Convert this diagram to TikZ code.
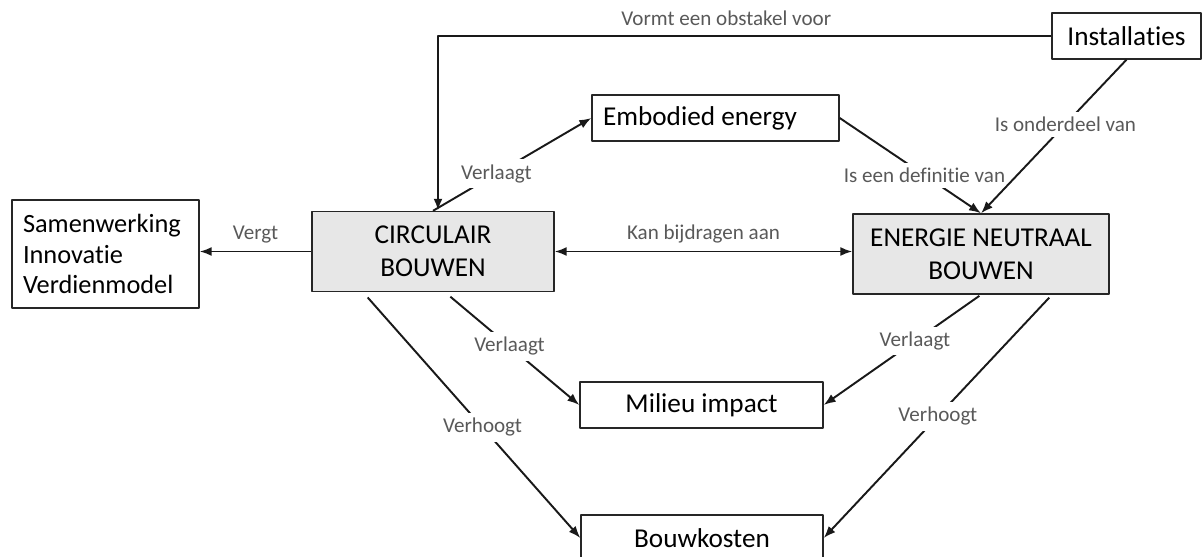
\documentclass[tikz,border=0pt]{standalone}
\usepackage{fontspec}
\setmainfont{Carlito}[Ligatures={NoCommon}]
\usepackage{xcolor}
\usetikzlibrary{arrows.meta,positioning}

\begin{document}
\begin{tikzpicture}[
  x=0.02cm, y=-0.02cm,
  >={Latex[length=2.4mm,width=1.8mm]},
  line join=round,
  box/.style={draw=black!85, line width=0.8pt, inner sep=0pt, align=center,
    font=\fontsize{15.5}{19}\selectfont, minimum height=0.92cm},
  keybox/.style={box, fill=cbgrey, minimum height=1.6cm},
  relation/.style={->, draw=black!90, line width=1.1pt},
  rellabel/.style={font=\fontsize{12}{14}\selectfont, text=cblabel,
    fill=white, inner sep=3pt}
]
\definecolor{cbgrey}{HTML}{E7E7E7}
\definecolor{cblabel}{HTML}{595959}

\useasboundingbox (0,0) rectangle (1203,557);

% the two main concepts
\node[keybox, minimum width=4.84cm] (circ) at (433,251.5) {CIRCULAIR\\BOUWEN};
\node[keybox, minimum width=5.12cm] (enb) at (981,254) {ENERGIE NEUTRAAL\\BOUWEN};

% related concepts
\node[box, minimum width=2.98cm] (inst) at (1126.5,36) {Installaties};
\node[box, text width=4.5cm, inner xsep=0.22cm, align=flush left] (emb) at (715.5,118) {Embodied energy};
\node[box, text width=3.3cm, inner xsep=0.22cm, align=flush left, minimum height=2.16cm,
  font=\fontsize{15}{17.5}\selectfont] (samen) at (105.5,254)
  {Samenwerking\\Innovatie\\Verdienmodel};
\node[box, minimum width=4.86cm] (mil) at (701.5,405) {Milieu impact};
\node[box, minimum width=4.84cm] (bouw) at (702,538) {Bouwkosten};

% relations
\draw[relation, line width=1.6pt] (inst.west) -| ([xshift=0.1cm]circ.north)
  node[rellabel, fill=none, pos=0.265, above=2pt] {Vormt een obstakel voor};
\draw[relation] (circ.north) -- node[rellabel, pos=0.4] {Verlaagt} (emb.west);
\draw[relation] (emb.east) -- node[rellabel, pos=0.6] {Is een definitie van} (enb.north);
\draw[relation] (inst.south) -- node[rellabel, pos=0.42] {Is onderdeel van} (enb.north);
\draw[relation, <->] (circ.east) -- node[rellabel, fill=none, above=1pt] {Kan bijdragen aan}
  (circ.east -| enb.west);
\draw[relation] (circ.west) -- node[rellabel, fill=none, above=1pt] {Vergt}
  (circ.west -| samen.east);
\draw[relation, shorten <=0.14cm] ([xshift=0.24cm]circ.south) --
  node[rellabel, pos=0.48] {Verlaagt} (mil.west);
\draw[relation, shorten <=0.14cm] ([xshift=-1.4cm]circ.south) --
  node[rellabel, pos=0.55] {Verhoogt} (bouw.west);
\draw[relation, shorten <=0.04cm] (enb.south) --
  node[rellabel, pos=0.42] {Verlaagt} (mil.east);
\draw[relation, shorten <=0.08cm] ([xshift=1.42cm]enb.south) --
  node[rellabel, pos=0.5] {Verhoogt} (bouw.east);
\end{tikzpicture}
\end{document}
